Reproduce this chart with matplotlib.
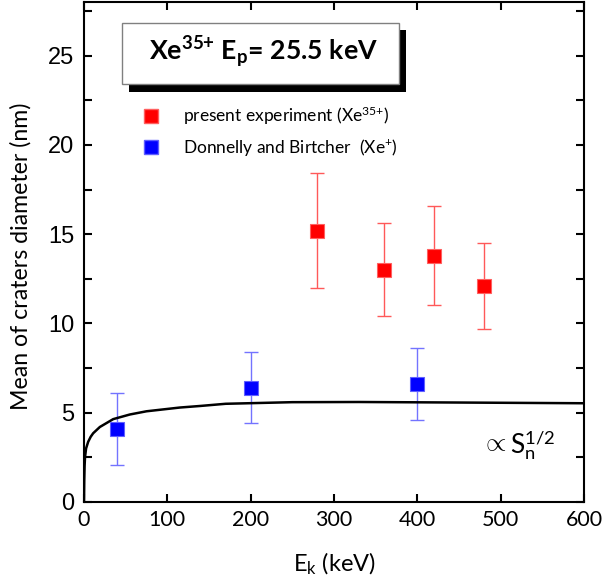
import matplotlib
matplotlib.use("Agg")
import matplotlib.pyplot as plt
from matplotlib.lines import Line2D
from matplotlib.patches import Rectangle
import numpy as np

# ---- data ----
red_x = [280, 360, 420, 480]
red_y = [15.2, 13.0, 13.8, 12.1]
red_lo = [12.0, 10.4, 11.05, 9.7]
red_hi = [18.4, 15.6, 16.55, 14.5]

blue_x = [40, 200, 400]
blue_y = [4.1, 6.4, 6.6]
blue_lo = [2.1, 4.4, 4.6]
blue_hi = [6.1, 8.4, 8.6]

curve_x = [0, 0.3, 0.7, 1.2, 2.5, 5, 8, 11, 19, 35, 55, 75, 115, 140, 170, 250, 330, 450, 600]
curve_y = [0, 1.2, 2.0, 2.5, 3.0, 3.37, 3.65, 3.85, 4.2, 4.64, 4.9, 5.08, 5.29, 5.38, 5.5, 5.59, 5.6, 5.57, 5.53]

xticks = [0, 100, 200, 300, 400, 500, 600]
yticks = [0, 5, 10, 15, 20, 25]

plt.rcParams['mathtext.fontset'] = 'custom'
plt.rcParams['mathtext.rm'] = 'Lato'
plt.rcParams['mathtext.it'] = 'Lato:italic'
plt.rcParams['mathtext.bf'] = 'Lato:bold'

fig = plt.figure(figsize=(6.03, 5.85), dpi=100)
W, H = 603, 585
ax = fig.add_axes([84 / W, 1 - 502 / H, 500 / W, 500 / H])

# error bars
ry = np.array(red_y)
ax.errorbar(red_x, red_y, yerr=[ry - np.array(red_lo), np.array(red_hi) - ry],
            fmt='none', ecolor=(1, 0.35, 0.35), elinewidth=1.0, capsize=5, capthick=1.0, zorder=2)
by = np.array(blue_y)
ax.errorbar(blue_x, blue_y, yerr=[by - np.array(blue_lo), np.array(blue_hi) - by],
            fmt='none', ecolor=(0.45, 0.45, 1), elinewidth=1.0, capsize=5, capthick=1.0, zorder=2)

ax.plot(curve_x, curve_y, color='black', lw=1.8, zorder=3)

ax.plot(red_x, red_y, 's', color='#ff0000', ms=10.5, mec='#ff6060', mew=0.8, zorder=4)
ax.plot(blue_x, blue_y, 's', color='#0000ff', ms=10.5, mec='#6060ff', mew=0.8, zorder=4)

ax.set_xlim(0, 600)
ax.set_ylim(0, 28)
ax.set_xticks(xticks)
ax.set_yticks(yticks)
ax.set_yticks(np.arange(2.5, 28, 5), minor=True)
ax.tick_params(which='both', direction='in', length=6, width=1.5, top=True, right=True)
ax.tick_params(axis='y', which='major', labelsize=17, pad=7)
ax.tick_params(axis='x', which='major', labelsize=15.5, pad=6)
for lab in ax.get_yticklabels():
    lab.set_fontfamily('Liberation Sans')
for lab in ax.get_xticklabels():
    lab.set_fontfamily('Lato')
for s in ax.spines.values():
    s.set_linewidth(1.5)

ax.set_ylabel('Mean of craters diameter (nm)', fontsize=16.7, family='Lato')
ax.yaxis.set_label_coords(-0.104, 0.492)
ax.set_xlabel('E$_\\mathrm{k}$ (keV)', fontsize=17, family='Lato')
ax.xaxis.set_label_coords(0.5, -0.098)

# title box with shadow
def fx(px):
    return px / W
def fy(py):
    return 1 - py / H
fig.patches.append(Rectangle((fx(129), fy(92)), fx(406) - fx(129), fy(30) - fy(92),
                             transform=fig.transFigure, facecolor='black', edgecolor='none', zorder=5))
fig.patches.append(Rectangle((fx(122), fy(84)), fx(399) - fx(122), fy(23) - fy(84),
                             transform=fig.transFigure, facecolor='white', edgecolor='#808080', lw=1, zorder=6))
fig.text(fx(263), fy(52), r'Xe$^{\mathbf{35{+}}}$ E$_{\mathbf{p}}$= 25.5 keV', fontsize=19.2, family='Lato',
         fontweight='bold', ha='center', va='center', zorder=7)

# legend
handles = [Line2D([], [], ls='none', marker='s', color='#ff0000', mec='#ff6060', ms=10.5),
           Line2D([], [], ls='none', marker='s', color='#0000ff', mec='#6060ff', ms=10.5)]
labels = ['present experiment (Xe$^{35{+}}$)', 'Donnelly and Birtcher  (Xe$^{+}$)']
leg = fig.legend(handles, labels, loc='upper left', bbox_to_anchor=(fx(144), fy(105)),
                 frameon=False, prop={'family': 'Lato', 'size': 12.5}, borderpad=0,
                 borderaxespad=0, handlelength=0.75, handletextpad=1.5, labelspacing=0.55)

ax.text(476, 3.3, r'$\propto$', fontsize=19, ha='left', va='center', transform=ax.transData)
ax.text(511, 3.2, r'S$_\mathrm{n}^{1/2}$', fontsize=19, family='Lato', ha='left', va='center')

fig.savefig('out.png', dpi=100)
